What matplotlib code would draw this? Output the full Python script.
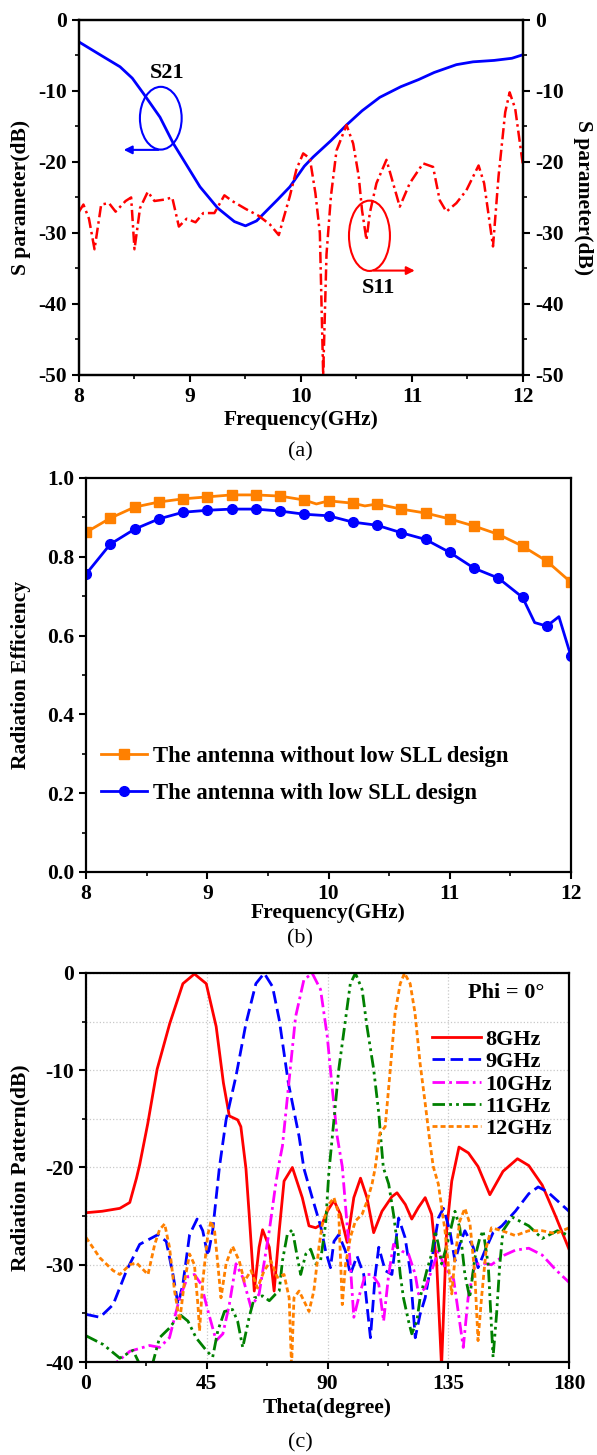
import numpy as np
import matplotlib.pyplot as plt
from matplotlib.patches import Ellipse

plt.rcParams['font.family'] = ['Liberation Serif', 'DejaVu Serif']
plt.rcParams['font.weight'] = 'bold'
plt.rcParams['axes.labelweight'] = 'bold'
plt.rcParams['font.size'] = 15.5
plt.rcParams['axes.linewidth'] = 1.6
plt.rcParams['axes.unicode_minus'] = False

# ---- (a) S parameters ----
f_s21 = [8.0, 8.2, 8.37, 8.48, 8.58, 8.73, 8.85, 9.09, 9.25, 9.4, 9.5, 9.6, 9.72, 9.79,
         9.9, 10.03, 10.11, 10.27, 10.41, 10.55, 10.71, 10.9, 11.06, 11.2, 11.4, 11.55,
         11.74, 11.9, 12.0]
s21 = [-3.1, -5.0, -6.6, -8.2, -10.35, -13.7, -17.4, -23.5, -26.5, -28.4, -29.0, -28.3,
       -26.4, -25.3, -23.5, -20.6, -19.3, -17.0, -14.8, -12.8, -10.9, -9.4, -8.4, -7.4,
       -6.3, -5.9, -5.7, -5.4, -4.9]

f_s11 = [8.0, 8.04, 8.09, 8.14, 8.2, 8.27, 8.33, 8.42, 8.47, 8.5, 8.55, 8.62, 8.68, 8.77,
         8.84, 8.9, 8.97, 9.05, 9.12, 9.22, 9.31, 9.38, 9.5, 9.62, 9.72, 9.8, 9.86, 9.9,
         9.96, 10.02, 10.08, 10.13, 10.17, 10.2, 10.23, 10.27, 10.32, 10.41, 10.47, 10.52,
         10.55, 10.59, 10.62, 10.68, 10.77, 10.83, 10.89, 10.98, 11.1, 11.19, 11.25, 11.31,
         11.4, 11.49, 11.6, 11.65, 11.73, 11.78, 11.84, 11.88, 11.93, 12.0]
s11 = [-27.0, -26.0, -28.0, -32.3, -26.0, -25.8, -27.0, -25.5, -25.0, -32.3, -26.5, -24.2,
       -25.5, -25.3, -25.0, -29.1, -28.0, -28.5, -27.2, -27.2, -24.7, -25.5, -26.6, -27.6,
       -28.8, -30.3, -27.0, -24.8, -21.0, -18.8, -19.5, -24.4, -30.0, -50.0, -33.0, -24.8,
       -18.4, -14.8, -17.4, -22.0, -26.8, -31.0, -27.2, -23.0, -19.7, -23.0, -26.3, -23.0,
       -20.2, -20.7, -25.4, -27.0, -25.8, -24.0, -20.5, -23.0, -31.9, -22.0, -13.0, -10.2,
       -12.5, -20.5]

# ---- (b) radiation efficiency ----
f_wo = [8.0, 8.2, 8.4, 8.6, 8.8, 9.0, 9.2, 9.4, 9.6, 9.8, 9.9, 10.0, 10.2, 10.3, 10.4,
        10.6, 10.8, 11.0, 11.2, 11.4, 11.6, 11.8, 12.0]
eff_wo = [0.862, 0.898, 0.926, 0.939, 0.947, 0.952, 0.957, 0.957, 0.954, 0.944, 0.934,
          0.942, 0.936, 0.929, 0.934, 0.921, 0.911, 0.896, 0.878, 0.857, 0.827, 0.789, 0.735]
f_w = [8.0, 8.2, 8.4, 8.6, 8.8, 9.0, 9.2, 9.4, 9.6, 9.8, 10.0, 10.2, 10.4, 10.6, 10.8,
       11.0, 11.2, 11.4, 11.6, 11.7, 11.8, 11.9, 12.0]
eff_w = [0.756, 0.832, 0.870, 0.896, 0.913, 0.918, 0.921, 0.921, 0.916, 0.908, 0.904,
         0.888, 0.880, 0.861, 0.844, 0.811, 0.771, 0.746, 0.697, 0.633, 0.624, 0.648, 0.547]

# ---- (c) radiation patterns ----
th_8 = [0, 6, 12.6, 16.3, 18.8, 20.0, 23, 26.5, 31.2, 36.1, 40.4, 44.8, 48.5, 51.2, 53.4,
        56.5, 57.7, 59.6, 60.8, 62.7, 64.5, 65.8, 68.3, 70.1, 72.0, 73.8, 76.9, 80.6, 83.1,
        85.6, 88.0, 89.9, 92.4, 94.8, 97.3, 99.8, 102.3, 104.7, 107.2, 110.3, 114.0, 115.9,
        119.0, 121.4, 123.9, 126.4, 128.8, 130.7, 132.5, 134.4, 136.3, 139.0, 142.5, 146.1,
        150.5, 155.4, 160.8, 165, 170, 175, 180]
p_8 = [-24.65, -24.5, -24.2, -23.6, -21.1, -19.7, -15.5, -9.9, -5.2, -1.1, -0.1, -1.1,
       -5.5, -11.3, -14.7, -15.1, -15.8, -20.1, -24.8, -32.7, -28.2, -26.4, -28.2, -32.7,
       -26.5, -21.4, -20.0, -23.1, -26.0, -26.2, -25.8, -24.5, -23.4, -24.8, -27.7, -23.1,
       -21.1, -23.1, -26.7, -24.5, -23.0, -22.6, -23.8, -25.3, -24.1, -23.1, -24.8, -29.9,
       -40.5, -26.5, -21.4, -17.9, -18.5, -19.9, -22.8, -20.4, -19.1, -19.8, -21.8, -25.0,
       -28.4]

th_9 = [0, 5.2, 10.1, 15.1, 20.0, 26.8, 29.9, 32.4, 34.3, 36.1, 38.6, 41.4, 43.5, 45.4,
        47.2, 48.5, 49.7, 52.2, 55.9, 59.6, 63.3, 66.4, 69.5, 72.0, 75.4, 79.4, 81.2, 84.3,
        87.4, 89.3, 91.1, 92.4, 94.2, 96.7, 98.5, 101.0, 103.5, 106.0, 107.8, 109.1, 111.5,
        114.0, 116.5, 118.9, 120.8, 122.7, 124.5, 126.4, 128.8, 131.3, 133.2, 135.6, 137.5,
        139.3, 141.2, 144.3, 146.1, 148.6, 151.7, 155, 160, 165, 168.5, 172, 176, 180]
p_9 = [-35.1, -35.4, -34.1, -30.6, -27.9, -26.9, -27.6, -31.0, -34.1, -32.0, -26.9, -25.3,
       -26.5, -29.1, -26.5, -23.1, -20.0, -15.1, -10.6, -5.2, -1.1, -0.03, -1.4, -4.8,
       -11.3, -16.8, -20.1, -23.1, -26.0, -28.6, -30.3, -27.6, -26.9, -28.6, -31.0, -29.1,
       -31.0, -37.5, -31.0, -28.2, -30.6, -31.0, -25.2, -27.2, -30.6, -37.5, -35.1, -33.4,
       -29.6, -25.2, -24.2, -26.5, -29.6, -27.9, -26.5, -28.2, -30.3, -28.6, -26.7, -26.0,
       -24.5, -22.7, -22.0, -22.5, -23.5, -24.5]

th_10 = [0, 6, 12.0, 16.3, 23.7, 27.4, 31.1, 34.9, 38.0, 40.4, 42.9, 45.4, 48.5, 51.0,
         53.4, 55.9, 58.4, 61.5, 64.5, 68.3, 70.7, 72.0, 73.2, 75.7, 78.1, 81.2, 84.3, 87.4,
         89.9, 91.7, 93.6, 95.5, 97.3, 98.5, 99.8, 101.6, 104.1, 106.6, 109.1, 110.9, 112.8,
         114.6, 117.7, 120.2, 122.7, 123.9, 126.4, 128.8, 131.3, 133.8, 137.0, 140.6, 142.4,
         144.9, 147.4, 151.1, 156, 160, 165, 170, 175, 180]
p_10 = [-41.5, -41.0, -39.9, -38.9, -38.3, -38.5, -37.5, -33.4, -31.2, -31.0, -32.0, -34.7,
        -37.8, -37.1, -34.1, -29.9, -31.3, -34.4, -33.0, -26.5, -21.7, -19.5, -17.8, -11.0,
        -4.5, -0.7, -0.03, -1.7, -6.5, -11.7, -16.8, -19.9, -25.9, -30.0, -35.4, -33.4,
        -31.0, -31.0, -32.0, -35.8, -31.0, -27.9, -28.6, -28.9, -31.0, -33.0, -32.4, -30.6,
        -28.6, -30.3, -31.5, -38.5, -33.4, -30.0, -29.8, -30.0, -29.0, -28.5, -28.3, -29.0,
        -30.5, -31.8]

th_11 = [0, 6.4, 12.6, 17.5, 21.0, 24.0, 27.4, 31.1, 34.9, 38.0, 41.0, 44.8, 47.2, 49.1,
         51.6, 54.6, 56.5, 58.4, 60.8, 62.7, 65.8, 68.3, 70.7, 72.0, 73.2, 75.0, 76.9, 78.8,
         80.0, 81.9, 83.7, 85.6, 87.4, 89.3, 90.5, 92.4, 94.2, 96.7, 98.5, 100.4, 102.9,
         104.7, 107.2, 109.1, 109.7, 110.8, 112.8, 114.6, 115.9, 117.1, 118.3, 120.2, 121.4,
         123.3, 124.5, 127.0, 128.8, 130.1, 131.3, 132.5, 134.5, 136.3, 137.5, 139.3, 141.2,
         143.0, 144.9, 146.8, 148.0, 149.9, 151.7, 153.0, 154.2, 155.4, 158.8, 165, 170,
         175.7, 180]
p_11 = [-37.3, -38.2, -39.6, -38.8, -40.8, -41.0, -37.5, -36.5, -35.1, -35.8, -37.5, -38.8,
        -39.5, -36.8, -34.8, -34.6, -35.8, -38.5, -35.4, -33.4, -33.2, -33.7, -33.0, -32.7,
        -29.6, -26.9, -26.4, -29.3, -31.0, -28.9, -28.4, -29.9, -29.6, -25.8, -20.5, -15.1,
        -9.9, -4.8, -1.1, -0.03, -1.7, -5.5, -9.9, -14.4, -16.5, -20.0, -21.7, -24.8, -27.6,
        -31.0, -33.4, -35.8, -37.1, -35.8, -33.4, -30.6, -28.9, -26.5, -27.9, -29.9, -28.0,
        -25.9, -24.5, -26.2, -31.0, -33.4, -29.3, -27.2, -26.5, -30.0, -39.5, -35.1, -30.0,
        -26.5, -25.1, -26.0, -27.3, -26.5, -27.0]

th_12 = [0, 5.2, 10.1, 12.6, 16.3, 18.8, 21.3, 23.1, 25.6, 27.4, 29.3, 31.1, 33.0, 34.9,
         36.7, 38.6, 40.4, 41.7, 42.3, 43.5, 45.4, 46.6, 47.9, 49.1, 50.3, 52.2, 54.6, 57.1,
         59.0, 61.5, 63.9, 66.4, 68.9, 71.3, 73.8, 75.7, 76.6, 77.5, 79.4, 81.2, 83.1, 84.9,
         86.8, 88.0, 90.5, 92.4, 94.2, 95.5, 96.7, 98.5, 100.4, 102.9, 104.7, 106.6, 107.8,
         109.5, 111.5, 113.4, 115.2, 117.1, 118.7, 120.8, 122.6, 124.5, 126.4, 128.2, 129.4,
         131.3, 133.8, 135.0, 136.3, 137.5, 139.3, 141.2, 143.1, 144.9, 146.1, 147.4, 149.2,
         151.1, 155, 160, 165, 170, 175, 180]
p_12 = [-27.2, -29.3, -30.6, -31.0, -30.0, -29.8, -30.5, -31.0, -27.9, -26.4, -25.8, -28.2,
        -32.7, -35.8, -31.7, -28.9, -30.0, -34.1, -36.8, -31.7, -26.9, -25.5, -26.5, -29.9,
        -33.4, -29.9, -28.1, -29.6, -31.7, -30.6, -32.4, -30.6, -29.6, -31.3, -31.0, -33.4,
        -40.5, -33.4, -32.7, -33.7, -34.8, -32.7, -28.2, -25.9, -23.8, -23.1, -24.8, -34.1,
        -30.0, -27.2, -25.5, -24.8, -23.5, -21.7, -20.0, -16.5, -15.8, -9.9, -4.1, -1.1,
        -0.03, -1.1, -4.1, -9.3, -13.4, -17.5, -19.9, -21.7, -26.5, -30.0, -33.0, -29.3,
        -25.5, -24.2, -25.8, -31.0, -37.8, -33.4, -28.2, -26.2, -26.5, -27.0, -26.5, -26.5,
        -26.8, -26.2]

fig = plt.figure(figsize=(5.97, 14.55), dpi=100)

# ================= (a) =================
ax1 = fig.add_axes([0.1323, 0.7423, 0.7437, 0.244])
ax1.plot(f_s21, s21, color='#0000FF', lw=2)
ax1.set_xlim(8, 12)
ax1.set_ylim(-50, 0)
ax1.set_xticks([8, 9, 10, 11, 12])
ax1.set_xticks(np.arange(8, 12.01, 0.5), minor=True)
ax1.set_yticks(np.arange(-50, 1, 10))
ax1.set_yticks(np.arange(-50, 1, 5), minor=True)
ax1.tick_params(which='major', direction='out', length=5, width=1.5)
ax1.tick_params(which='minor', direction='out', length=3, width=1.2)
ax1.set_xlabel('Frequency(GHz)')
ax1.set_ylabel('S parameter(dB)')
ax1.yaxis.set_label_coords(-0.108, 0.5)
ax1.xaxis.set_label_coords(0.5, -0.099)

ax1r = ax1.twinx()
ax1r.plot(f_s11, s11, color='#FF0000', lw=1.8, ls=(0, (4.5, 1.6, 1, 1.6)))
ax1r.set_ylim(-50, 0)
ax1r.set_yticks(np.arange(-50, 1, 10))
ax1r.set_yticks(np.arange(-50, 1, 5), minor=True)
ax1r.tick_params(which='major', direction='out', length=5, width=1.5)
ax1r.tick_params(which='minor', direction='out', length=3, width=1.2)
ax1r.set_ylabel('S parameter(dB)', rotation=270, va='bottom', rotation_mode='anchor')
ax1r.yaxis.set_label_coords(1.113, 0.5)

ax1.add_patch(Ellipse((8.737, -13.84), 0.376, 8.84, fill=False, ec='#0000FF', lw=1.5))
ax1.annotate('', xy=(8.378, -18.3), xytext=(8.74, -18.3),
             arrowprops=dict(arrowstyle='-|>', color='#0000FF', lw=1.5, mutation_scale=12))
ax1.text(8.79, -7.5, 'S21', ha='center', va='center', fontsize=16)
ax1.add_patch(Ellipse((10.617, -30.4), 0.369, 9.9, fill=False, ec='#FF0000', lw=1.5))
ax1.annotate('', xy=(11.05, -35.3), xytext=(10.63, -35.3),
             arrowprops=dict(arrowstyle='-|>', color='#FF0000', lw=1.5, mutation_scale=12))
ax1.text(10.70, -37.7, 'S11', ha='center', va='center', fontsize=16)

fig.text(0.503, 1 - 452 / 1455, '(a)', ha='center', va='center', fontsize=16, fontweight='normal')

# ================= (b) =================
ax2 = fig.add_axes([0.1441, 0.4007, 0.8124, 0.2708])
mk_wo = [i for i, f in enumerate(f_wo) if abs(f * 5 - round(f * 5)) < 1e-6]
mk_w = [i for i, f in enumerate(f_w) if abs(f * 5 - round(f * 5)) < 1e-6]
ax2.plot(f_wo, eff_wo, color='#FF8000', lw=2, marker='s', ms=6.5, markevery=mk_wo,
         label='The antenna without low SLL design')
ax2.plot(f_w, eff_w, color='#0000FF', lw=2, marker='o', ms=7, markevery=mk_w,
         label='The antenna with low SLL design')
ax2.set_xlim(8, 12)
ax2.set_ylim(0, 1.0)
ax2.set_xticks([8, 9, 10, 11, 12])
ax2.set_xticks(np.arange(8, 12.01, 0.5), minor=True)
ax2.set_yticks(np.arange(0, 1.01, 0.2))
ax2.set_yticks(np.arange(0, 1.01, 0.1), minor=True)
ax2.yaxis.set_major_formatter(plt.FormatStrFormatter('%.1f'))
ax2.tick_params(which='major', direction='out', length=5, width=1.5)
ax2.tick_params(which='minor', direction='out', length=3, width=1.2)
ax2.set_xlabel('Frequency(GHz)')
ax2.set_ylabel('Radiation Efficiency')
ax2.yaxis.set_label_coords(-0.113, 0.5)
ax2.xaxis.set_label_coords(0.5, -0.078)
ax2.legend(loc='upper left', bbox_to_anchor=(0.03, 0.32), frameon=False, fontsize=16.3,
           handlelength=2.05, handletextpad=0.25, labelspacing=0.72, borderpad=0,
           borderaxespad=0)

fig.text(0.503, 1 - 939 / 1455, '(b)', ha='center', va='center', fontsize=16, fontweight='normal')

# ================= (c) =================
ax3 = fig.add_axes([0.1441, 0.0639, 0.809, 0.2674])
ax3.plot(th_8, p_8, color='#FF0000', lw=2, ls='-', label='8GHz')
ax3.plot(th_9, p_9, color='#0000FF', lw=2, ls=(0, (4.5, 2)), label='9GHz')
ax3.plot(th_10, p_10, color='#FF00FF', lw=2, ls=(0, (4.5, 1.5, 1, 1.5)), label='10GHz')
ax3.plot(th_11, p_11, color='#008000', lw=2, ls=(0, (4.5, 1.5, 1, 1.5, 1, 1.5)), label='11GHz')
ax3.plot(th_12, p_12, color='#FF8000', lw=2, ls=(0, (1.8, 1.1)), label='12GHz')
ax3.set_xlim(0, 180)
ax3.set_ylim(-40, 0)
ax3.set_xticks([0, 45, 90, 135, 180])
ax3.set_xticks(np.arange(0, 181, 22.5), minor=True)
ax3.set_yticks(np.arange(-40, 1, 10))
ax3.set_yticks(np.arange(-40, 1, 5), minor=True)
ax3.tick_params(which='major', direction='out', length=5, width=1.5)
ax3.tick_params(which='minor', direction='out', length=3, width=1.2)
ax3.grid(axis='x', which='major', ls=':', color='#c8c8c8', lw=0.9)
ax3.grid(axis='y', which='both', ls=':', color='#c8c8c8', lw=0.9)
ax3.set_axisbelow(True)
ax3.set_xlabel('Theta(degree)')
ax3.set_ylabel('Radiation Pattern(dB)')
ax3.yaxis.set_label_coords(-0.114, 0.5)
ax3.xaxis.set_label_coords(0.5, -0.0925)
ax3.legend(loc='upper left', bbox_to_anchor=(0.716, 0.855), frameon=False, fontsize=16,
           handlelength=2.2, handletextpad=0.2, labelspacing=0.08, borderpad=0,
           borderaxespad=0)
ax3.text(0.79, 0.949, 'Phi = 0°', transform=ax3.transAxes, ha='left', va='center', fontsize=16)

fig.text(0.503, 1 - 1443 / 1455, '(c)', ha='center', va='center', fontsize=16, fontweight='normal')

fig.savefig('out.png', dpi=100)
